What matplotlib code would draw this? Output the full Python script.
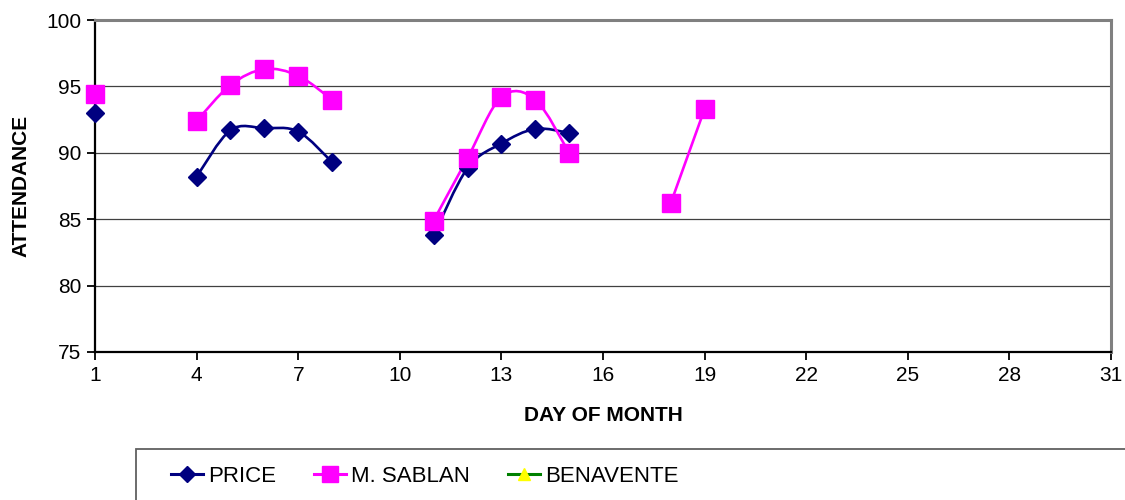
"""Attendance by day of month, Excel-style line chart with smoothed lines."""
import numpy as np
import matplotlib
matplotlib.use("Agg")
import matplotlib.pyplot as plt
from matplotlib.path import Path
from matplotlib.patches import PathPatch, Rectangle
from matplotlib.lines import Line2D

days = [1, 4, 5, 6, 7, 8, 11, 12, 13, 14, 15, 18, 19]
price = [93.0, 88.2, 91.7, 91.85, 91.6, 89.3,
         83.8, 88.85, 90.7, 91.8, 91.5, np.nan, np.nan]
sablan = [94.4, 92.4, 95.1, 96.3, 95.8, 94.0,
          84.9, 89.6, 94.2, 94.0, 90.0, 86.2, 93.3]
benavente = [np.nan] * len(days)

series_names = ["PRICE", "M. SABLAN", "BENAVENTE"]
x_ticks = list(range(1, 32, 3))
y_ticks = [75, 80, 85, 90, 95, 100]

FONT = ["Liberation Sans", "DejaVu Sans"]


def runs(xs, ys):
    """Split into runs of consecutive days with data (Excel leaves gaps)."""
    out, cur = [], []
    prev = None
    for x, y in zip(xs, ys):
        if np.isnan(y):
            if cur:
                out.append(cur)
            cur, prev = [], None
            continue
        if prev is not None and x - prev > 1:
            out.append(cur)
            cur = []
        cur.append((x, y))
        prev = x
    if cur:
        out.append(cur)
    return out


def smooth_path(pts):
    """Bezier path through the points, like Excel's 'smoothed line'."""
    p = np.array(pts, dtype=float)
    verts, codes = [p[0]], [Path.MOVETO]
    n = len(p)
    for i in range(n - 1):
        p0 = p[i - 1] if i > 0 else p[i]
        p3 = p[i + 2] if i + 2 < n else p[i + 1]
        c1 = p[i] + (p[i + 1] - p0) / 6
        c2 = p[i + 1] - (p3 - p[i]) / 6
        verts += [c1, c2, p[i + 1]]
        codes += [Path.CURVE4] * 3
    return Path(verts, codes)


fig = plt.figure(figsize=(11.25, 5), dpi=100)
ax = fig.add_axes([95 / 1125, 1 - 352 / 500, (1111 - 95) / 1125, (352 - 20) / 500])

styles = [
    dict(color="#000080", marker="D", ms=9, mfc="#000080", mec="#000080"),
    dict(color="#FF00FF", marker="s", ms=12.5, mfc="#FF00FF", mec="#FF00FF"),
    dict(color="#008000", marker="^", ms=9, mfc="#FFFF00", mec="#FFFF00"),
]

for vals, st in zip([price, sablan, benavente], styles):
    for seg in runs(days, vals):
        if len(seg) > 1:
            ax.add_patch(PathPatch(smooth_path(seg), fill=False,
                                   edgecolor=st["color"], lw=1.9, zorder=3))
    ax.plot(days, vals, ls="none", marker=st["marker"], ms=st["ms"],
            mfc=st["mfc"], mec=st["mec"], zorder=4, clip_on=False)

ax.set_xlim(1, 31)
ax.set_ylim(75, 100)
ax.set_xticks(x_ticks)
ax.set_yticks(y_ticks)
ax.grid(axis="y", color="#000000", lw=0.9, alpha=0.75)
ax.set_axisbelow(True)

for side in ["left", "bottom"]:
    ax.spines[side].set_color("black")
    ax.spines[side].set_linewidth(1.6)
for side in ["top", "right"]:
    ax.spines[side].set_color("#808080")
    ax.spines[side].set_linewidth(2.2)

ax.tick_params(direction="out", length=6, width=1.3, labelsize=15, pad=4)
for lab in ax.get_xticklabels() + ax.get_yticklabels():
    lab.set_family(FONT)

ax.set_xlabel("DAY OF MONTH", fontsize=15, fontweight="bold", family=FONT, labelpad=15)
ax.set_ylabel("ATTENDANCE", fontsize=15, fontweight="bold", family=FONT, labelpad=11)

# legend box running off the bottom/right edge, as in the original
fig.patches.append(Rectangle((136 / 1125, -0.2), 1.2, 0.2 + 1 - 449 / 500,
                             transform=fig.transFigure, fill=False,
                             edgecolor="#606060", lw=1.3))
handles = [Line2D([], [], color=st["color"], lw=2.2, marker=st["marker"],
                  ms=st["ms"] * 0.9, mfc=st["mfc"], mec=st["mec"])
           for st in styles]
fig.legend(handles, series_names, ncol=3, frameon=False,
           loc="center left", bbox_to_anchor=(160 / 1125, 1 - 476 / 500),
           prop={"family": FONT, "size": 16}, handlelength=1.45,
           handletextpad=0.22, columnspacing=1.7, borderpad=0)

fig.savefig("out.png", dpi=100)
